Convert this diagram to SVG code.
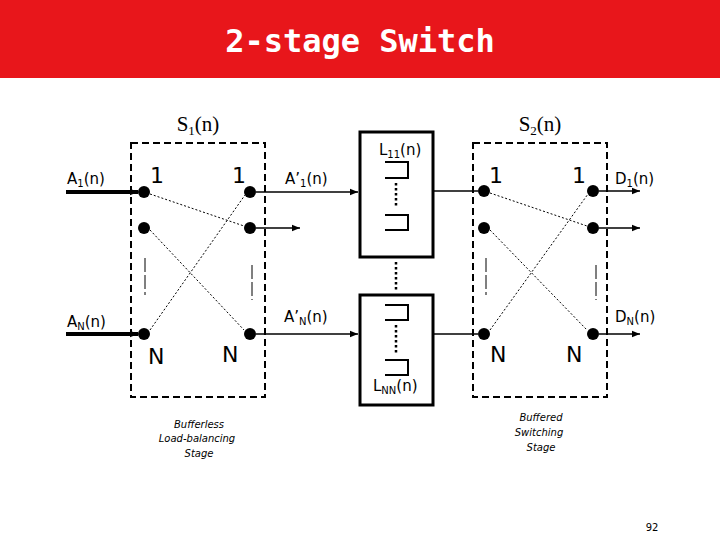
<svg xmlns="http://www.w3.org/2000/svg" width="720" height="540" viewBox="0 0 720 540">
<style>
.t{font-family:"DejaVu Sans",sans-serif;font-size:15px;fill:#000}
.s{font-size:10px}
.big{font-family:"DejaVu Sans",sans-serif;font-size:22px}
.sr{font-family:"Liberation Serif",serif;font-size:21px}
.box{fill:none;stroke:#000;stroke-width:2;stroke-dasharray:7,4}
.buf{fill:#fff;stroke:#000;stroke-width:3}
.q{fill:none;stroke:#000;stroke-width:2}
.dot{fill:#000}
.cross{stroke:#000;stroke-width:1;stroke-dasharray:2,2;fill:none}
.vd{stroke:#000;stroke-width:1;stroke-dasharray:14,3}
.dt{stroke:#000;stroke-width:2.5;stroke-dasharray:2.5,2.5}
.ln{stroke:#000;stroke-width:1.5;marker-end:url(#ah)}
.th{stroke:#000;stroke-width:4;marker-end:url(#ah)}
.lab{font-family:"DejaVu Sans",sans-serif;font-style:italic;font-size:10px;text-anchor:middle}
</style>
<defs><marker id="ah" viewBox="0 0 10 10" refX="10" refY="5" markerWidth="8" markerHeight="8" markerUnits="userSpaceOnUse" orient="auto"><path d="M0,1 L10,5 L0,9z"/></marker></defs>
<rect width="720" height="540" fill="#fff"/>
<rect width="720" height="78" fill="#e8161b"/>
<text x="360" y="52" text-anchor="middle" font-family="DejaVu Sans Mono,monospace" font-weight="bold" font-size="32" fill="#fff">2-stage Switch</text>

<g id="stage1">
<rect class="box" x="131" y="143" width="134" height="254"/>
<text class="sr" x="198" y="131" text-anchor="middle">S<tspan font-size="13" dy="4">1</tspan><tspan dy="-4">(n)</tspan></text>
<circle class="dot" cx="144" cy="192" r="6"/><circle class="dot" cx="144" cy="228" r="6"/><circle class="dot" cx="144" cy="334" r="6"/>
<circle class="dot" cx="250" cy="192" r="6"/><circle class="dot" cx="250" cy="228" r="6"/><circle class="dot" cx="250" cy="334" r="6"/>
<line class="cross" x1="150" y1="194" x2="244" y2="226"/><line class="cross" x1="150" y1="230" x2="244" y2="330"/><line class="cross" x1="150" y1="330" x2="245" y2="195"/>
<line class="vd" x1="145" y1="258" x2="145" y2="295"/><line class="vd" x1="252" y1="265" x2="252" y2="300"/>
<text class="big" x="150" y="183">1</text><text class="big" x="232" y="183">1</text>
<text class="big" x="148" y="364">N</text><text class="big" x="222" y="362">N</text>
</g>

<g id="buffers">
<rect class="buf" x="360" y="132" width="73" height="125"/>
<rect class="buf" x="360" y="295" width="73" height="110"/>
<path class="q" d="M385,162H408V178H385M385,215H408V230H385M385,305H408V320H385M385,360H408V375H385"/>
<line class="dt" x1="396" y1="183" x2="396" y2="208"/>
<line class="dt" x1="396" y1="262" x2="396" y2="290"/>
<line class="dt" x1="396" y1="325" x2="396" y2="355"/>
<text class="t" x="379" y="155">L<tspan class="s" dy="3">11</tspan><tspan dy="-3">(n)</tspan></text>
<text class="t" x="373" y="391">L<tspan class="s" dy="3">NN</tspan><tspan dy="-3">(n)</tspan></text>
</g>

<g id="stage2">
<rect class="box" x="473" y="143" width="134" height="254"/>
<text class="sr" x="540" y="131" text-anchor="middle">S<tspan font-size="13" dy="4">2</tspan><tspan dy="-4">(n)</tspan></text>
<circle class="dot" cx="484" cy="191" r="6"/><circle class="dot" cx="484" cy="228" r="6"/><circle class="dot" cx="484" cy="334" r="6"/>
<circle class="dot" cx="593" cy="191" r="6"/><circle class="dot" cx="593" cy="228" r="6"/><circle class="dot" cx="593" cy="334" r="6"/>
<line class="cross" x1="490" y1="193" x2="587" y2="226"/><line class="cross" x1="490" y1="230" x2="587" y2="330"/><line class="cross" x1="490" y1="330" x2="588" y2="194"/>
<line class="vd" x1="486" y1="258" x2="486" y2="295"/><line class="vd" x1="596" y1="265" x2="596" y2="300"/>
<text class="big" x="489" y="183">1</text><text class="big" x="572" y="183">1</text>
<text class="big" x="490" y="362">N</text><text class="big" x="566" y="362">N</text>
</g>

<g id="connectors">
<line class="th" x1="66" y1="192" x2="138" y2="192"/>
<line class="th" x1="66" y1="334" x2="138" y2="334"/>
<line class="ln" x1="256" y1="192" x2="358" y2="192"/>
<line class="ln" x1="256" y1="228" x2="300" y2="228"/>
<line class="ln" x1="256" y1="334" x2="358" y2="334"/>
<line class="ln" x1="433" y1="191" x2="478" y2="191" style="marker-end:none"/>
<line class="ln" x1="433" y1="334" x2="478" y2="334" style="marker-end:none"/>
<line class="ln" x1="599" y1="191" x2="640" y2="191"/>
<line class="ln" x1="599" y1="228" x2="640" y2="228"/>
<line class="ln" x1="599" y1="334" x2="640" y2="334"/>
</g>

<g id="labels">
<text class="t" x="67" y="184">A<tspan class="s" dy="3">1</tspan><tspan dy="-3">(n)</tspan></text>
<text class="t" x="67" y="327">A<tspan class="s" dy="3">N</tspan><tspan dy="-3">(n)</tspan></text>
<text class="t" x="285" y="184">A’<tspan class="s" dy="3">1</tspan><tspan dy="-3">(n)</tspan></text>
<text class="t" x="284" y="322">A’<tspan class="s" dy="3">N</tspan><tspan dy="-3">(n)</tspan></text>
<text class="t" x="615" y="184">D<tspan class="s" dy="3">1</tspan><tspan dy="-3">(n)</tspan></text>
<text class="t" x="615" y="322">D<tspan class="s" dy="3">N</tspan><tspan dy="-3">(n)</tspan></text>
<text class="lab" x="199" y="428">Bufferless</text>
<text class="lab" x="197" y="442">Load-balancing</text>
<text class="lab" x="199" y="457">Stage</text>
<text class="lab" x="541" y="421">Buffered</text>
<text class="lab" x="539" y="436">Switching</text>
<text class="lab" x="541" y="451">Stage</text>
<text x="652" y="531" text-anchor="middle" font-family="DejaVu Sans,sans-serif" font-size="10">92</text>
</g>
</svg>
